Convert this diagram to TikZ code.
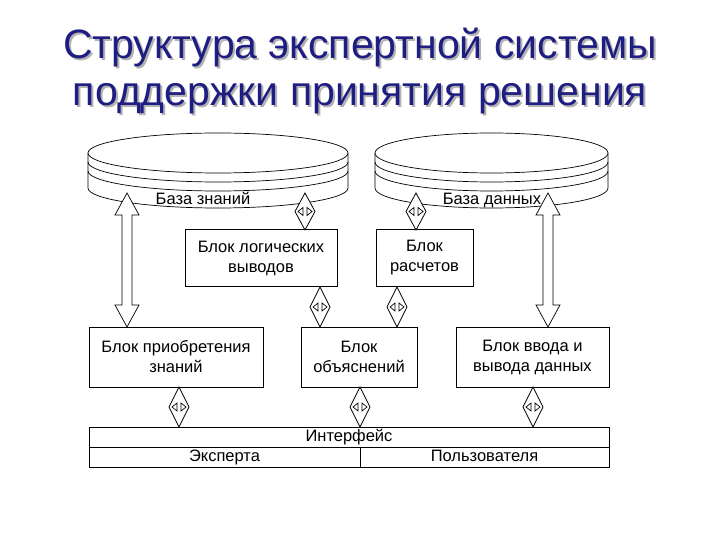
\documentclass[tikz,border=0pt]{standalone}
\usepackage{fontspec}
\setmainfont{Liberation Sans}
\usetikzlibrary{calc}
\definecolor{navy}{RGB}{30,30,130}
\newcommand{\conn}[3]{%
  \pgfmathsetmacro{\mya}{#1-10}\pgfmathsetmacro{\myb}{#1+10}\pgfmathsetmacro{\mym}{(#2+#3)/2}%
  \pgfmathsetmacro{\myu}{\mym-4}\pgfmathsetmacro{\myd}{\mym+4}%
  \pgfmathsetmacro{\myl}{#1-2}\pgfmathsetmacro{\myL}{#1-7}\pgfmathsetmacro{\myr}{#1+2}\pgfmathsetmacro{\myR}{#1+7}%
  \draw[fill=white,line width=0.8pt] (#1,#2) -- (\myb,\mym) -- (#1,#3) -- (\mya,\mym) -- cycle;
  \draw (\myl,\myu) -- (\myL,\mym) -- (\myl,\myd) -- cycle;
  \draw (\myr,\myu) -- (\myR,\mym) -- (\myr,\myd) -- cycle;}
\newcommand{\bigarr}[3]{%
  \draw[fill=white] (#1,#2) -- ++(12,22) -- ++(-7,0) |- ($(#1,#3)+(5,-22)$) -- ++(7,0) -- (#1,#3)
   -- ++(-12,-22) -- ++(7,0) |- ($(#1,#2)+(-5,22)$) -- ++(-7,0) -- cycle;}
\newcommand{\dbshape}[2]{%
  \pgfmathsetmacro{\cx}{(#1+#2)/2}\pgfmathsetmacro{\rx}{(#2-#1)/2}
  \draw[fill=white] (#1,153) -- (#1,188) arc[start angle=180,end angle=0,x radius=\rx,y radius=20] -- (#2,153);
  \draw[fill=white] (\cx,153) ellipse[x radius=\rx,y radius=20];
  \draw (#1,162) arc[start angle=180,end angle=0,x radius=\rx,y radius=20];
  \draw (#1,171) arc[start angle=180,end angle=0,x radius=\rx,y radius=20];}
\begin{document}
\begin{tikzpicture}[x=1pt,y=-1pt,line width=0.7pt,
  box/.style={draw,fill=white,align=center,font=\fontsize{16.5}{20}\selectfont,inner sep=0pt},
  lbl/.style={font=\fontsize{16.5}{20}\selectfont,text height=12pt,text depth=3pt},
  ttl/.style={font=\fontsize{41}{47}\selectfont,align=center}]
\useasboundingbox (0,0) rectangle (720,540);
\node[ttl,text=gray!60] at (362,73) {Структура экспертной системы\\поддержки принятия решения};
\node[ttl,text=navy] (title) at (360,71) {Структура экспертной системы\\поддержки принятия решения};
\dbshape{88}{348}
\dbshape{375}{608}
\node[lbl] (kb) at (203,200) {База знаний};
\node[lbl] (db) at (492,200) {База данных};
\node[box,minimum width=152,minimum height=57] (logic) at (261,258) {Блок логических\\выводов};
\node[box,minimum width=97,minimum height=57] (calc) at (424.5,258) {Блок\\расчетов};
\node[box,minimum width=174,minimum height=60] (acq) at (176,357) {Блок приобретения\\знаний};
\node[box,minimum width=116,minimum height=60] (expl) at (359,357) {Блок\\объяснений};
\node[box,minimum width=153,minimum height=60] (io) at (532.5,357) {Блок ввода и\\вывода данных};
\node[draw,minimum width=520,minimum height=20,inner sep=0pt,lbl] (iface) at (349,437) {Интерфейс};
\node[draw,minimum width=271,minimum height=20,inner sep=0pt,lbl] (exp) at (224.5,457) {Эксперта};
\node[draw,minimum width=249,minimum height=20,inner sep=0pt,lbl] (usr) at (484.5,457) {Пользователя};
\bigarr{127}{193}{327}
\bigarr{548}{193}{327}
\conn{305}{193}{230}
\conn{416}{193}{230}
\conn{320}{287}{327}
\conn{397}{287}{327}
\conn{179}{387}{427}
\conn{360}{387}{427}
\conn{533}{387}{427}
\end{tikzpicture}
\end{document}
